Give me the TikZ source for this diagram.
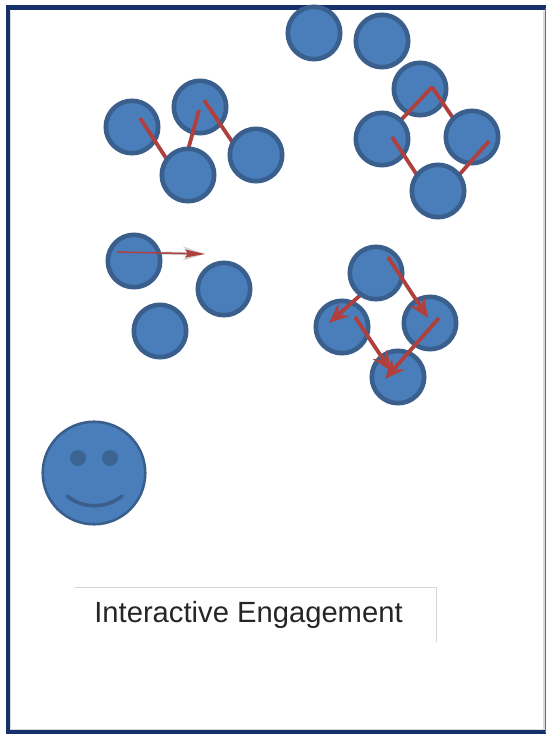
\documentclass[tikz,border=0pt]{standalone}
\usepackage{fontspec}
\setmainfont{Liberation Sans}
\usetikzlibrary{arrows.meta}
\definecolor{ballfill}{HTML}{4A7EBB}
\definecolor{ballline}{HTML}{3A5F8C}
\definecolor{arrowred}{HTML}{B0403E}
\definecolor{framenavy}{HTML}{15306B}
\tikzset{
  x=1pt,y=-1pt,
  ball/.style={circle,draw=ballline,fill=ballfill,line width=4.6pt,minimum size=52.4pt,inner sep=0pt,outer sep=0pt},
  eye/.style={circle,fill=ballline!85!ballfill,draw=none,minimum size=16pt,inner sep=0pt},
  face/.style={circle,draw=ballline,fill=ballfill,line width=2.6pt,minimum size=102.5pt,inner sep=0pt},
  stem/.style={draw=arrowred,line width=3.8pt},
  point/.style={stem,-{Stealth[length=20pt,width=17pt,inset=7pt]}},
  thinpoint/.style={draw=arrowred,line width=1.5pt,-{Stealth[length=20pt,width=8pt,inset=3pt]}},
  halo/.style={draw=black!18,line width=3pt,-{Stealth[length=22pt,width=14pt,inset=7pt]}},
  rule/.style={draw=black!16,line width=1pt},
  framepart/.style={draw=framenavy,line width=4.6pt}
}
\begin{document}
\begin{tikzpicture}
\useasboundingbox (0,0) rectangle (546,734);
\fill[white] (0,0) rectangle (546,734);
% frame
\draw[black!14,line width=1.2pt] (10.8,11) -- (10.8,730) -- (544,730) -- (544,11);
\draw[framepart] (546,7.5) -- (7.8,7.5) -- (7.8,732.5) -- (546,732.5);
\draw[draw=framenavy!70,line width=2pt] (545.5,7.5) -- (545.5,732.5);
% free ends
\coordinate (s1) at (140,118); \coordinate (e1) at (166,158);
\coordinate (s2) at (199,110); \coordinate (e2) at (188,150);
\coordinate (s3) at (204,100); \coordinate (e3) at (233,143);
\coordinate (peak) at (432,87); \coordinate (e4) at (401,120); \coordinate (e5) at (453,118);
\coordinate (s6) at (392,137); \coordinate (e6) at (417,175);
\coordinate (s7) at (489,141); \coordinate (e7) at (459,175);
\coordinate (s8) at (117,252); \coordinate (e8) at (205,254);
\coordinate (h8) at (162,253);
\coordinate (s9) at (365,291); \coordinate (e9) at (329,323);
\coordinate (s10) at (388,257); \coordinate (e10) at (428,318);
\coordinate (s11) at (355,317); \coordinate (e11) at (391,371);
\coordinate (s12) at (439,318); \coordinate (e12) at (385,379);
% top pair
\node[ball] (t1) at (314,33) {};
\node[ball] (t2) at (382,41) {};
% group one
\node[ball] (a1) at (132,127) {};
\node[ball] (a2) at (200,107) {};
\draw[stem] (s1) -- (e1);
\draw[stem] (s2) -- (e2);
\draw[stem] (s3) -- (e3);
\node[ball] (a3) at (188,175) {};
\node[ball] (a4) at (256,155) {};
% group two
\node[ball] (b1) at (420,89) {};
\draw[stem] (peak) -- (e4);
\draw[stem] (peak) -- (e5);
\node[ball] (b2) at (382,139) {};
\node[ball] (b3) at (472,137) {};
\draw[stem] (s6) -- (e6);
\draw[stem] (s7) -- (e7);
\node[ball] (b4) at (438,191) {};
% group three
\node[ball] (c1) at (134,261) {};
\node[ball] (c2) at (224,289) {};
\node[ball] (c3) at (160,331) {};
\draw[halo] (h8) -- (e8);
\draw[thinpoint] (s8) -- (e8);
% group four
\node[ball] (d2) at (342,327) {};
\node[ball] (d3) at (430,323) {};
\node[ball] (d4) at (398,377) {};
\draw[point] (s9) -- (e9);
\node[ball] (d1) at (376,273) {};
\draw[point] (s10) -- (e10);
\draw[point] (s11) -- (e11);
\draw[point] (s12) -- (e12);
% smiley
\node[face] (f) at (94,473) {};
\node[eye] (f1) at (78,458) {};
\node[eye] (f2) at (110,458) {};
\coordinate (m1) at (67,496);
\coordinate (m2) at (122,496);
\draw[ballline,line width=3.6pt,line cap=round] (m1) .. controls (83,509) and (106,509) .. (m2);
% caption
\node[inner sep=0pt,font=\fontsize{29.2pt}{33pt}\selectfont,text=black!85] (cap) at (248.5,615) {Interactive Engagement};
\coordinate (r1) at (75,587.5); \coordinate (r2) at (436,587.5); \coordinate (r3) at (436,642);
\draw[rule] (r1) -- (r2) -- (r3);
\end{tikzpicture}
\end{document}
